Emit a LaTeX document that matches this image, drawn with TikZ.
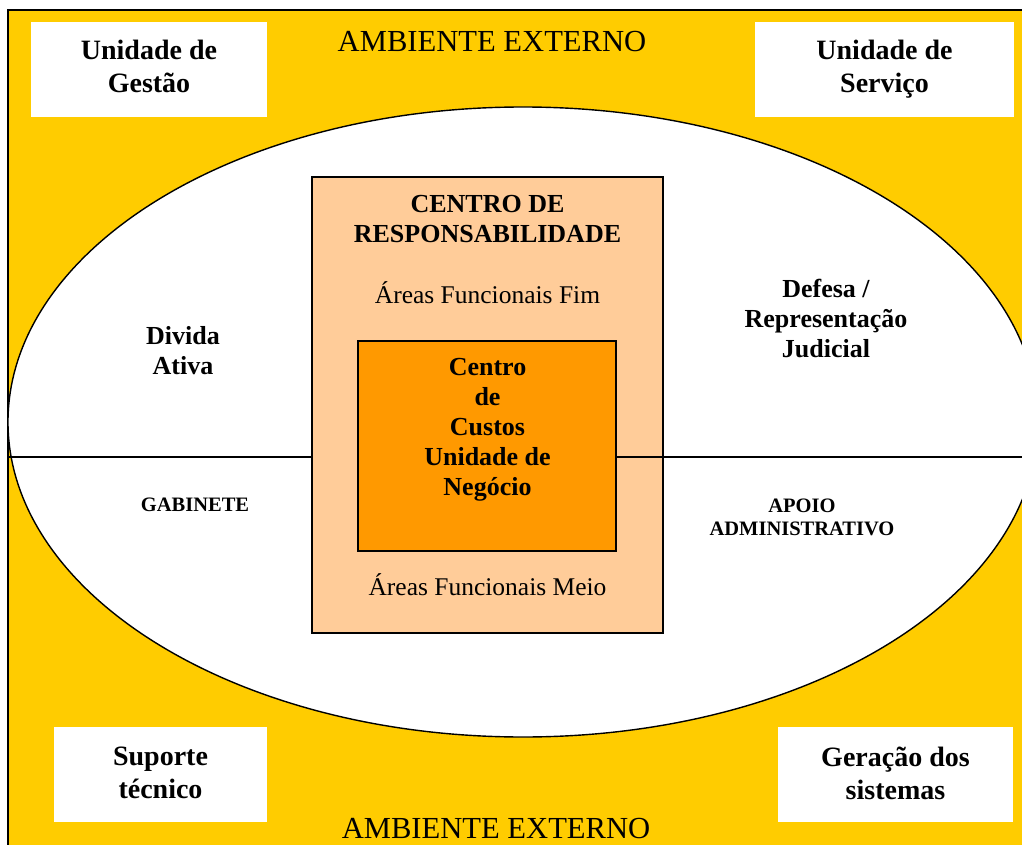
\documentclass[tikz,border=0pt]{standalone}
\usepackage{fontspec}
\setmainfont{Liberation Serif}
\usetikzlibrary{shapes.geometric}
\definecolor{amb}{HTML}{FFCC00}
\definecolor{peach}{HTML}{FFCC99}
\definecolor{laranja}{HTML}{FF9900}
\tikzset{
  outline/.style={draw=black, line width=1.4pt},
  whitebox/.style={fill=white, inner sep=0pt},
  cornertext/.style={align=center, inner sep=0pt, font=\fontsize{28}{33}\selectfont\bfseries},
  labbig/.style={align=center, inner sep=0pt, font=\fontsize{26}{30}\selectfont\bfseries},
  labsmall/.style={align=center, inner sep=0pt, font=\fontsize{20.5}{23}\selectfont\bfseries},
  labreg/.style={align=center, inner sep=0pt, font=\fontsize{25.5}{30}\selectfont},
  labamb/.style={align=center, inner sep=0pt, font=\fontsize{30.6}{34}\selectfont},
}
\begin{document}
\begin{tikzpicture}[x=1pt,y=-1pt]
\useasboundingbox (0,0) rectangle (1022,845);
\clip (0,0) rectangle (1022,845);
% outer environment
\draw[outline, fill=amb, line width=1.2pt] (8,10) rectangle (1045,870);
% corner boxes
\node[whitebox, minimum width=236pt, minimum height=95pt] (gestao) at (149,69.5) {};
\node[whitebox, minimum width=259pt, minimum height=95pt] (servico) at (884.5,69.5) {};
\node[whitebox, minimum width=213pt, minimum height=95pt] (suporte) at (160.5,774.5) {};
\node[whitebox, minimum width=235pt, minimum height=95pt] (geracao) at (895.5,774.5) {};
\node[cornertext] (tgestao) at (149,66.5) {Unidade de\\Gestão};
\node[cornertext] (tservico) at (884.5,69.5) {Unidade de\\Serviço};
\node[cornertext] (tsuporte) at (160.5,772.5) {Suporte\\técnico};
\node[cornertext] (tgeracao) at (895.5,773) {Geração dos\\sistemas};
\node[labamb] (ambtop) at (492,42) {AMBIENTE EXTERNO};
\node[labamb] (ambbot) at (496,829) {AMBIENTE EXTERNO};
% ellipse
\draw[outline, fill=white] (523,422) ellipse [x radius=515pt, y radius=315pt];
\coordinate (lineL) at (8,457);
\coordinate (lineR) at (1022,457);
% responsibility centre
\node[outline, fill=peach, minimum width=351pt, minimum height=456pt, inner sep=0pt] (peachbox) at (487.5,405) {};
\node[outline, fill=laranja, minimum width=258pt, minimum height=210pt, inner sep=0pt] (orangebox) at (487,446) {};
\draw[outline] (lineL) -- (peachbox.west |- lineL);
\draw[outline] (orangebox.east |- lineR) -- (lineR);
\node[labbig] (cresp) at (487.5,219.5) {CENTRO DE\\RESPONSABILIDADE};
\node[labreg] (afim) at (487.5,292.5) {Áreas Funcionais Fim};
\node[labbig] (ccustos) at (487.5,430) {Centro\\de\\Custos\\Unidade de\\Negócio};
\node[labreg] (ameio) at (487.5,584.5) {Áreas Funcionais Meio};
% quadrant labels
\node[labbig] (divida) at (183,350.5) {Divida\\Ativa};
\node[labbig] (defesa) at (826,318.5) {Defesa /\\Representação\\Judicial};
\node[labsmall] (gabinete) at (195,505) {GABINETE};
\node[labsmall] (apoio) at (802,517) {APOIO\\ADMINISTRATIVO};
\end{tikzpicture}
\end{document}
